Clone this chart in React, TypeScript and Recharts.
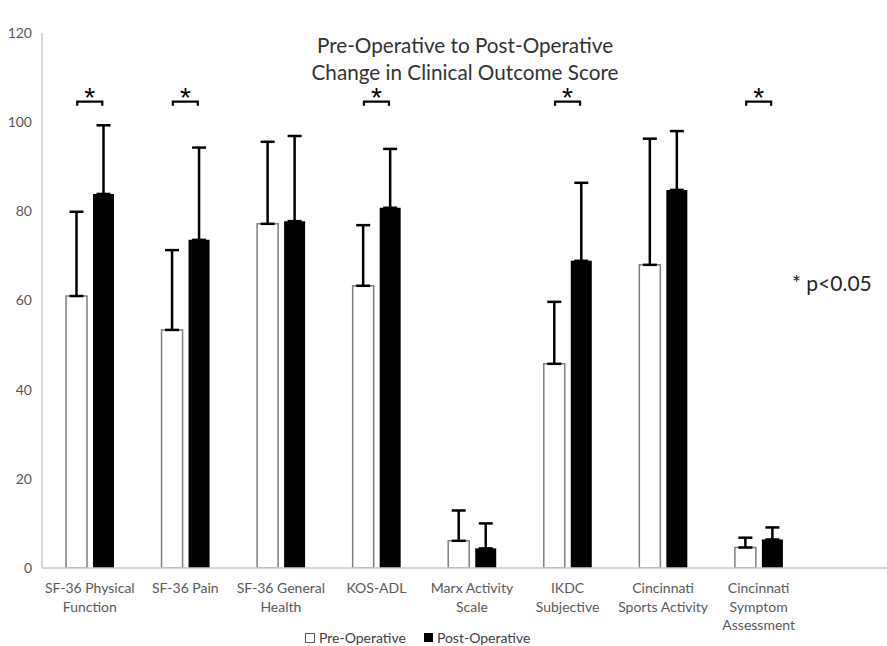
import React from "react";
import {
  ComposedChart,
  Bar,
  ErrorBar,
  Scatter,
  XAxis,
  YAxis,
} from "recharts";

// outcome measures (last slot left empty on purpose, as in the source layout)
const categories = [
  "SF-36 Physical\nFunction",
  "SF-36 Pain",
  "SF-36 General\nHealth",
  "KOS-ADL",
  "Marx Activity\nScale",
  "IKDC\nSubjective",
  "Cincinnati\nSports Activity",
  "Cincinnati\nSymptom\nAssessment",
  "",
];
const preOp = [61.0, 53.4, 77.2, 63.3, 6.1, 45.8, 68.0, 4.6, null];
const postOp = [83.9, 73.6, 77.8, 80.8, 4.4, 68.9, 84.8, 6.4, null];
const preSd = [18.9, 17.9, 18.4, 13.6, 6.8, 13.9, 28.3, 2.2, null];
const postSd = [15.4, 20.7, 19.1, 13.2, 5.6, 17.5, 13.2, 2.7, null];
const significant = [true, true, false, true, false, true, false, true, false];
const bracketLevel = 104.6;
const yTicks = [0, 20, 40, 60, 80, 100, 120];

const data = categories.map((name, i) => ({
  name,
  pre: preOp[i],
  post: postOp[i],
  preErr: preSd[i] == null ? null : [0, preSd[i]],
  postErr: postSd[i] == null ? null : [0, postSd[i]],
  sig: significant[i] ? bracketLevel : null,
}));

const FONT = "Lato, 'Open Sans', sans-serif";
const TEXT = "#595959";

const CategoryTick = (props: any) => {
  const { x, y, payload } = props;
  const lines = String(payload.value).split("\n");
  return (
    <text x={x} y={y} textAnchor="middle" fill={TEXT} fontSize={14} fontFamily={FONT}>
      {lines.map((line, i) => (
        <tspan key={i} x={x} dy={i === 0 ? 17 : 18.5}>
          {line}
        </tspan>
      ))}
    </text>
  );
};

// bracket + asterisk over a significant pre/post pair
const SigBracket = (props: any) => {
  const { cx, cy, payload } = props;
  if (!payload || payload.sig == null || !isFinite(cy)) return <g />;
  const half = 12.5;
  return (
    <g>
      <path
        d={`M${cx - half},${cy + 4} L${cx - half},${cy} L${cx + half},${cy} L${cx + half},${cy + 4}`}
        fill="none"
        stroke="#000"
        strokeWidth={2.2}
      />
      <text
        x={cx}
        y={cy + 5}
        textAnchor="middle"
        fontSize={28}
        fontFamily="'Liberation Sans', Arial, sans-serif"
        fill="#000"
      >
        *
      </text>
    </g>
  );
};

const titleLine: React.CSSProperties = {
  position: "absolute",
  left: 265,
  width: 400,
  textAlign: "center",
  fontSize: 20.7,
  lineHeight: "16px",
  color: "#333",
  whiteSpace: "nowrap",
};

export default function App() {
  return (
    <div
      style={{
        position: "absolute",
        left: 0,
        top: 0,
        width: 887,
        height: 646,
        overflow: "hidden",
        background: "#fff",
        fontFamily: FONT,
      }}
    >
      <div style={{ ...titleLine, top: 36.5 }}>Pre-Operative to Post-Operative</div>
      <div style={{ ...titleLine, top: 63.5 }}>Change in Clinical Outcome Score</div>

      <ComposedChart
        width={910}
        height={646}
        data={data}
        margin={{ top: 33, right: 8, bottom: 18, left: 0 }}
        barGap={6}
      >
        <XAxis
          dataKey="name"
          tickLine={false}
          axisLine={{ stroke: "#c8c8c8", strokeWidth: 1.5 }}
          tick={<CategoryTick />}
          interval={0}
          height={60}
        />
        <YAxis
          domain={[0, 120]}
          ticks={yTicks}
          width={42}
          tickLine={false}
          tickSize={0}
          tickMargin={10}
          axisLine={{ stroke: "#c8c8c8", strokeWidth: 1.5 }}
          tick={{ fill: TEXT, fontSize: 14, fontFamily: FONT }}
          allowDataOverflow
        />
        <Bar
          dataKey="pre"
          barSize={21}
          fill="#fff"
          stroke="#7f7f7f"
          strokeWidth={1.5}
          isAnimationActive={false}
        >
          <ErrorBar dataKey="preErr" width={7} stroke="#000" strokeWidth={2.5} direction="y" />
        </Bar>
        <Bar dataKey="post" barSize={21} fill="#000" isAnimationActive={false}>
          <ErrorBar dataKey="postErr" width={7} stroke="#000" strokeWidth={2.5} direction="y" />
        </Bar>
        <Scatter dataKey="sig" shape={<SigBracket />} isAnimationActive={false} />
      </ComposedChart>

      <div
        style={{
          position: "absolute",
          left: 792,
          top: 270,
          fontSize: 21,
          color: "#262626",
          whiteSpace: "nowrap",
        }}
      >
        * p&lt;0.05
      </div>

      <div
        style={{
          position: "absolute",
          left: 305,
          top: 629,
          display: "flex",
          alignItems: "center",
          fontSize: 14,
          color: "#404040",
          whiteSpace: "nowrap",
        }}
      >
        <span
          style={{
            display: "inline-block",
            width: 8,
            height: 8,
            border: "1.3px solid #595959",
            background: "#fff",
            marginRight: 4,
          }}
        />
        <span style={{ marginRight: 18 }}>Pre-Operative</span>
        <span
          style={{
            display: "inline-block",
            width: 9,
            height: 9,
            background: "#000",
            marginRight: 4,
          }}
        />
        <span>Post-Operative</span>
      </div>
    </div>
  );
}
